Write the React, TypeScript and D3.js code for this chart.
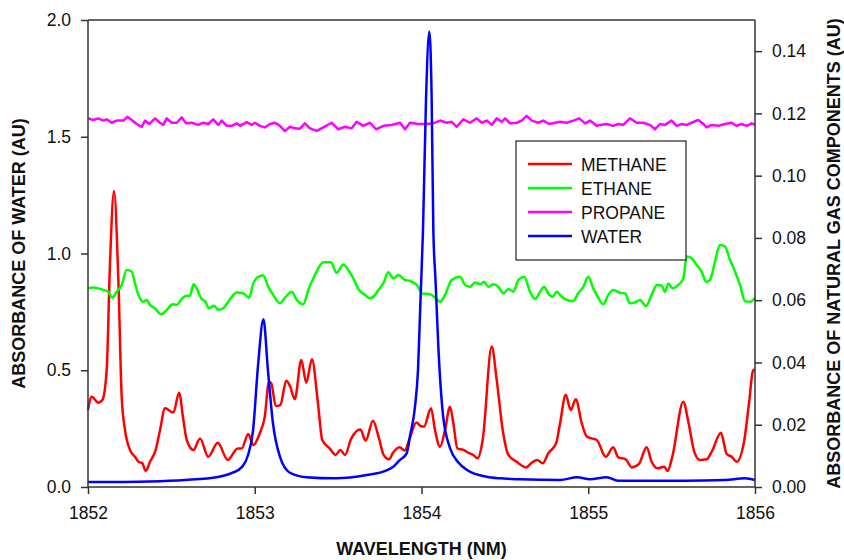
import React, { useEffect, useRef } from "react";
import * as d3 from "d3";

type Pt = [number, number];

// Left axis: water absorbance (AU)
const water: Pt[] = [
  [1852.0, 0.021], [1852.372, 0.024], [1852.582, 0.03], [1852.78, 0.043], [1852.864, 0.06],
  [1852.924, 0.086], [1852.96, 0.137], [1852.99, 0.244], [1853.02, 0.523], [1853.052, 0.718],
  [1853.079, 0.501], [1853.109, 0.274], [1853.151, 0.13], [1853.211, 0.061], [1853.307, 0.042],
  [1853.487, 0.037], [1853.671, 0.051], [1853.787, 0.07], [1853.831, 0.087], [1853.871, 0.116],
  [1853.911, 0.144], [1853.931, 0.218], [1853.961, 0.344], [1853.979, 0.501], [1853.994, 0.801],
  [1854.009, 1.101], [1854.027, 1.658], [1854.047, 1.95], [1854.061, 1.658], [1854.071, 1.101],
  [1854.084, 0.887], [1854.101, 0.601], [1854.129, 0.308], [1854.171, 0.167], [1854.219, 0.107],
  [1854.273, 0.073], [1854.391, 0.044], [1854.471, 0.037], [1854.591, 0.033], [1854.831, 0.03],
  [1854.933, 0.042], [1855.01, 0.033], [1855.111, 0.042], [1855.178, 0.027], [1855.58, 0.027],
  [1855.82, 0.03], [1855.94, 0.037], [1856.0, 0.03],
];

// Right axis: natural gas components (AU)
const methane: Pt[] = [
  [1852.0, 0.0247], [1852.022, 0.029], [1852.062, 0.0271], [1852.086, 0.0279], [1852.112, 0.0376],
  [1852.132, 0.072], [1852.156, 0.0951], [1852.182, 0.0665], [1852.202, 0.029], [1852.222, 0.0183],
  [1852.252, 0.0119], [1852.282, 0.0097], [1852.302, 0.0081], [1852.326, 0.0076], [1852.346, 0.0052],
  [1852.372, 0.0081], [1852.406, 0.0119], [1852.432, 0.0183], [1852.462, 0.0253], [1852.512, 0.0239],
  [1852.546, 0.0303], [1852.572, 0.0215], [1852.592, 0.0151], [1852.632, 0.0119], [1852.672, 0.0156],
  [1852.721, 0.0097], [1852.778, 0.0142], [1852.838, 0.0087], [1852.898, 0.0124], [1852.922, 0.0124],
  [1852.961, 0.017], [1852.991, 0.0135], [1853.03, 0.0172], [1853.06, 0.0226], [1853.085, 0.0338],
  [1853.099, 0.0333], [1853.126, 0.026], [1853.153, 0.0263], [1853.189, 0.0341], [1853.213, 0.0322],
  [1853.24, 0.0282], [1853.279, 0.0408], [1853.309, 0.0335], [1853.343, 0.041], [1853.379, 0.0269],
  [1853.405, 0.0151], [1853.449, 0.0124], [1853.485, 0.0103], [1853.513, 0.0119], [1853.541, 0.0103],
  [1853.579, 0.0156], [1853.633, 0.0185], [1853.665, 0.0149], [1853.709, 0.0213], [1853.745, 0.0156],
  [1853.773, 0.0103], [1853.805, 0.0089], [1853.829, 0.011], [1853.869, 0.0128], [1853.899, 0.0117],
  [1853.929, 0.0156], [1853.969, 0.0207], [1853.995, 0.0196], [1854.015, 0.0194], [1854.057, 0.0253],
  [1854.081, 0.0183], [1854.111, 0.0129], [1854.141, 0.0183], [1854.171, 0.0258], [1854.191, 0.0205],
  [1854.215, 0.0124], [1854.251, 0.0119], [1854.281, 0.011], [1854.311, 0.0103], [1854.335, 0.0092],
  [1854.367, 0.0151], [1854.421, 0.0451], [1854.451, 0.0344], [1854.487, 0.0183], [1854.521, 0.0103],
  [1854.571, 0.0081], [1854.627, 0.0063], [1854.661, 0.0078], [1854.694, 0.0087], [1854.727, 0.0076],
  [1854.76, 0.0108], [1854.807, 0.014], [1854.831, 0.0205], [1854.865, 0.0296], [1854.895, 0.0247],
  [1854.925, 0.0282], [1854.961, 0.0205], [1854.991, 0.0162], [1855.021, 0.0156], [1855.051, 0.0151],
  [1855.105, 0.0097], [1855.15, 0.0128], [1855.18, 0.0095], [1855.225, 0.0089], [1855.261, 0.0063],
  [1855.304, 0.0074], [1855.35, 0.0128], [1855.38, 0.0081], [1855.416, 0.006], [1855.456, 0.0065],
  [1855.476, 0.0052], [1855.504, 0.0097], [1855.57, 0.0274], [1855.6, 0.021], [1855.636, 0.0113],
  [1855.67, 0.0087], [1855.71, 0.0089], [1855.74, 0.0113], [1855.796, 0.0174], [1855.83, 0.0106],
  [1855.86, 0.0097], [1855.89, 0.0081], [1855.936, 0.0151], [1855.964, 0.0269], [1855.99, 0.0376],
  [1856.0, 0.0376],
];

const ethane: Pt[] = [
  [1852.0, 0.0638], [1852.032, 0.0641], [1852.062, 0.0638], [1852.092, 0.0633], [1852.122, 0.0627],
  [1852.146, 0.0608], [1852.172, 0.0627], [1852.202, 0.0649], [1852.232, 0.0697], [1852.262, 0.0692],
  [1852.282, 0.0654], [1852.302, 0.0617], [1852.332, 0.0595], [1852.352, 0.0601], [1852.372, 0.0585],
  [1852.402, 0.0574], [1852.438, 0.0555], [1852.472, 0.0569], [1852.506, 0.0587], [1852.532, 0.0585],
  [1852.562, 0.0604], [1852.592, 0.0614], [1852.612, 0.0614], [1852.632, 0.0651], [1852.652, 0.0638],
  [1852.678, 0.0606], [1852.702, 0.0597], [1852.726, 0.0574], [1852.757, 0.0582], [1852.781, 0.0569],
  [1852.811, 0.0574], [1852.852, 0.0604], [1852.892, 0.0625], [1852.931, 0.0622], [1852.966, 0.0608],
  [1852.991, 0.0654], [1853.021, 0.0675], [1853.051, 0.0679], [1853.081, 0.0643], [1853.111, 0.0617],
  [1853.151, 0.059], [1853.181, 0.0608], [1853.222, 0.0627], [1853.252, 0.0601], [1853.291, 0.0587],
  [1853.321, 0.0633], [1853.361, 0.0681], [1853.411, 0.0722], [1853.457, 0.0722], [1853.491, 0.0688],
  [1853.531, 0.0715], [1853.561, 0.0697], [1853.591, 0.067], [1853.621, 0.0636], [1853.661, 0.0617],
  [1853.691, 0.0606], [1853.721, 0.0617], [1853.741, 0.0633], [1853.771, 0.0654], [1853.801, 0.069],
  [1853.831, 0.067], [1853.861, 0.0681], [1853.901, 0.0665], [1853.931, 0.0662], [1853.981, 0.0643],
  [1854.001, 0.0622], [1854.051, 0.0619], [1854.081, 0.0608], [1854.111, 0.0595], [1854.141, 0.0617],
  [1854.181, 0.0665], [1854.231, 0.0675], [1854.261, 0.0649], [1854.291, 0.0643], [1854.321, 0.0657],
  [1854.351, 0.0651], [1854.375, 0.0659], [1854.401, 0.0643], [1854.431, 0.0651], [1854.461, 0.0643],
  [1854.491, 0.0622], [1854.521, 0.0636], [1854.551, 0.0627], [1854.581, 0.0665], [1854.615, 0.0675],
  [1854.651, 0.0627], [1854.681, 0.0604], [1854.711, 0.0627], [1854.735, 0.0643], [1854.76, 0.0622],
  [1854.787, 0.0611], [1854.811, 0.0627], [1854.841, 0.0611], [1854.871, 0.0601], [1854.907, 0.0597],
  [1854.94, 0.0622], [1854.97, 0.0643], [1855.0, 0.0675], [1855.03, 0.0638], [1855.06, 0.0608],
  [1855.09, 0.0587], [1855.12, 0.0617], [1855.15, 0.0633], [1855.19, 0.0624], [1855.22, 0.0622],
  [1855.25, 0.059], [1855.28, 0.0593], [1855.31, 0.0601], [1855.346, 0.0581], [1855.38, 0.0617],
  [1855.411, 0.0649], [1855.44, 0.0647], [1855.46, 0.0627], [1855.48, 0.0654], [1855.506, 0.0638],
  [1855.54, 0.0649], [1855.57, 0.067], [1855.59, 0.074], [1855.62, 0.0735], [1855.65, 0.0713],
  [1855.68, 0.0692], [1855.706, 0.0659], [1855.73, 0.0665], [1855.76, 0.0724], [1855.79, 0.0777],
  [1855.82, 0.0772], [1855.85, 0.0729], [1855.88, 0.0692], [1855.91, 0.0649], [1855.94, 0.0597],
  [1855.97, 0.0595], [1856.0, 0.0608],
];

const propane: Pt[] = [
  [1852.002, 0.1184], [1852.032, 0.1179], [1852.062, 0.1184], [1852.092, 0.1177], [1852.112, 0.1181],
  [1852.142, 0.117], [1852.172, 0.1177], [1852.212, 0.1177], [1852.236, 0.1189], [1852.262, 0.1179],
  [1852.292, 0.1166], [1852.322, 0.1157], [1852.342, 0.1177], [1852.368, 0.1166], [1852.402, 0.1184],
  [1852.432, 0.117], [1852.452, 0.1163], [1852.472, 0.1184], [1852.502, 0.117], [1852.532, 0.117],
  [1852.562, 0.1187], [1852.588, 0.1168], [1852.622, 0.117], [1852.661, 0.1163], [1852.691, 0.117],
  [1852.721, 0.1166], [1852.751, 0.1181], [1852.781, 0.1163], [1852.802, 0.1177], [1852.832, 0.116],
  [1852.862, 0.116], [1852.892, 0.1168], [1852.912, 0.116], [1852.952, 0.1172], [1852.982, 0.1163],
  [1853.001, 0.117], [1853.031, 0.116], [1853.061, 0.1155], [1853.091, 0.1166], [1853.121, 0.117],
  [1853.151, 0.116], [1853.181, 0.1143], [1853.211, 0.1157], [1853.241, 0.1152], [1853.271, 0.1151],
  [1853.301, 0.1168], [1853.331, 0.1152], [1853.372, 0.1144], [1853.411, 0.1155], [1853.461, 0.117],
  [1853.501, 0.1149], [1853.541, 0.1157], [1853.581, 0.1152], [1853.611, 0.1173], [1853.651, 0.116],
  [1853.691, 0.117], [1853.727, 0.1149], [1853.771, 0.116], [1853.821, 0.1163], [1853.871, 0.117],
  [1853.901, 0.1149], [1853.931, 0.117], [1853.981, 0.1166], [1854.031, 0.1166], [1854.071, 0.1168],
  [1854.111, 0.1177], [1854.151, 0.117], [1854.181, 0.1173], [1854.211, 0.1157], [1854.251, 0.1181],
  [1854.291, 0.117], [1854.331, 0.1184], [1854.361, 0.117], [1854.391, 0.1177], [1854.421, 0.1163],
  [1854.451, 0.1184], [1854.481, 0.1173], [1854.501, 0.1184], [1854.531, 0.1168], [1854.571, 0.117],
  [1854.601, 0.1177], [1854.631, 0.1192], [1854.661, 0.1177], [1854.7, 0.117], [1854.73, 0.1177],
  [1854.766, 0.1166], [1854.801, 0.117], [1854.831, 0.1173], [1854.871, 0.117], [1854.91, 0.1177],
  [1854.946, 0.1184], [1854.981, 0.1168], [1855.01, 0.1177], [1855.051, 0.116], [1855.07, 0.1163],
  [1855.111, 0.1166], [1855.15, 0.116], [1855.18, 0.1166], [1855.21, 0.1163], [1855.25, 0.1184],
  [1855.291, 0.117], [1855.33, 0.117], [1855.37, 0.1163], [1855.4, 0.1149], [1855.43, 0.1166],
  [1855.46, 0.1163], [1855.5, 0.1177], [1855.53, 0.116], [1855.56, 0.1166], [1855.59, 0.1163],
  [1855.62, 0.117], [1855.66, 0.1179], [1855.69, 0.1166], [1855.71, 0.1155], [1855.74, 0.1163],
  [1855.78, 0.116], [1855.82, 0.1166], [1855.86, 0.117], [1855.89, 0.116], [1855.92, 0.1166],
  [1855.95, 0.116], [1855.98, 0.1168], [1856.0, 0.1163],
];

const legendLabels = ["METHANE", "ETHANE", "PROPANE", "WATER"];
const legendColors = ["#ff0000", "#00ff00", "#ff00ff", "#0000ff"];
const leftTicks = [0, 0.5, 1.0, 1.5, 2.0];
const rightTicks = [0, 0.02, 0.04, 0.06, 0.08, 0.1, 0.12, 0.14];
const xTicks = [1852, 1853, 1854, 1855, 1856];

const W = 844;
const H = 560;
const M = { left: 88, right: 755, top: 20, bottom: 487 };
const FONT = "'Liberation Sans', Arial, sans-serif";
const AXIS = "#333";

export default function App() {
  const ref = useRef<SVGSVGElement>(null);

  useEffect(() => {
    const svg = d3.select(ref.current);
    svg.selectAll("*").remove();

    const x = d3.scaleLinear().domain([1852, 1856]).range([M.left, M.right]);
    const yL = d3.scaleLinear().domain([0, 2]).range([M.bottom, M.top]);
    const yR = d3.scaleLinear().domain([0, 0.15]).range([M.bottom, M.top]);

    const lineR = (curve: d3.CurveFactory) =>
      d3.line<Pt>().x((d) => x(d[0])).y((d) => yR(d[1])).curve(curve);
    const lineL = d3.line<Pt>().x((d) => x(d[0])).y((d) => yL(d[1])).curve(d3.curveMonotoneX);

    const g = svg.append("g");
    g.append("path").datum(methane).attr("d", lineR(d3.curveMonotoneX) as any)
      .attr("fill", "none").attr("stroke", legendColors[0]).attr("stroke-width", 2.5).attr("stroke-linejoin", "round");
    g.append("path").datum(ethane).attr("d", lineR(d3.curveMonotoneX) as any)
      .attr("fill", "none").attr("stroke", legendColors[1]).attr("stroke-width", 2.5).attr("stroke-linejoin", "round");
    g.append("path").datum(propane).attr("d", lineR(d3.curveLinear) as any)
      .attr("fill", "none").attr("stroke", legendColors[2]).attr("stroke-width", 2.5).attr("stroke-linejoin", "round");
    g.append("path").datum(water).attr("d", lineL as any)
      .attr("fill", "none").attr("stroke", legendColors[3]).attr("stroke-width", 2.5).attr("stroke-linejoin", "round");

    // frame top line
    svg.append("line").attr("x1", M.left).attr("x2", M.right).attr("y1", M.top).attr("y2", M.top)
      .attr("stroke", AXIS).attr("stroke-width", 1.5);

    const styleAxis = (sel: d3.Selection<SVGGElement, unknown, null, undefined>) => {
      sel.selectAll(".domain").attr("stroke", AXIS).attr("stroke-width", 1.5);
      sel.selectAll(".tick line").attr("stroke", AXIS).attr("stroke-width", 1.5);
      sel.selectAll(".tick text").attr("fill", "#111").style("font-size", "17.5px").style("font-family", FONT);
    };

    const ax = svg.append("g").attr("transform", `translate(0,${M.bottom})`)
      .call(d3.axisBottom(x).tickValues(xTicks).tickFormat(d3.format("d")).tickSize(7).tickSizeOuter(0).tickPadding(13));
    styleAxis(ax as any);

    const al = svg.append("g").attr("transform", `translate(${M.left},0)`)
      .call(d3.axisLeft(yL).tickValues(leftTicks).tickFormat(d3.format(".1f")).tickSize(7).tickSizeOuter(0).tickPadding(10));
    styleAxis(al as any);

    const ar = svg.append("g").attr("transform", `translate(${M.right},0)`)
      .call(d3.axisRight(yR).tickValues(rightTicks).tickFormat(d3.format(".2f")).tickSize(7).tickSizeOuter(0).tickPadding(10));
    styleAxis(ar as any);
    ar.select(".domain").remove();
    ar.append("line").attr("x1", 0).attr("x2", 0).attr("y1", M.top).attr("y2", M.bottom)
      .attr("stroke", AXIS).attr("stroke-width", 1.5);
    al.select(".domain").remove();
    al.append("line").attr("x1", 0).attr("x2", 0).attr("y1", M.top).attr("y2", M.bottom)
      .attr("stroke", AXIS).attr("stroke-width", 1.5);
    ax.select(".domain").remove();
    ax.append("line").attr("x1", M.left).attr("x2", M.right).attr("y1", 0).attr("y2", 0)
      .attr("stroke", AXIS).attr("stroke-width", 1.5);

    // titles
    const cy = (M.top + M.bottom) / 2;
    svg.append("text").attr("x", (M.left + M.right) / 2).attr("y", 555).attr("text-anchor", "middle")
      .style("font-family", FONT).style("font-weight", "bold").style("font-size", "18px").attr("fill", "#111")
      .text("WAVELENGTH (NM)");
    svg.append("text").attr("transform", `translate(25,${cy}) rotate(-90)`).attr("text-anchor", "middle")
      .style("font-family", FONT).style("font-weight", "bold").style("font-size", "18px").attr("fill", "#111")
      .text("ABSORBANCE OF WATER (AU)");
    svg.append("text").attr("transform", `translate(840,${cy}) rotate(-90)`).attr("text-anchor", "middle")
      .style("font-family", FONT).style("font-weight", "bold").style("font-size", "18px").attr("fill", "#111")
      .text("ABSORBANCE OF NATURAL GAS COMPONENTS (AU)");

    // legend
    const lg = svg.append("g");
    lg.append("rect").attr("x", 516).attr("y", 141).attr("width", 170).attr("height", 119)
      .attr("fill", "white").attr("stroke", "#222").attr("stroke-width", 1.2);
    legendLabels.forEach((lab, i) => {
      const yy = 164 + i * 24;
      lg.append("line").attr("x1", 528).attr("x2", 572).attr("y1", yy).attr("y2", yy)
        .attr("stroke", legendColors[i]).attr("stroke-width", 2.5);
      lg.append("text").attr("x", 581).attr("y", yy + 6.5)
        .style("font-family", FONT).style("font-size", "17.5px").attr("fill", "#111").text(lab);
    });
  }, []);

  return (
    <svg ref={ref} width={W} height={H} style={{ position: "absolute", left: 0, top: 0, background: "white" }} />
  );
}
